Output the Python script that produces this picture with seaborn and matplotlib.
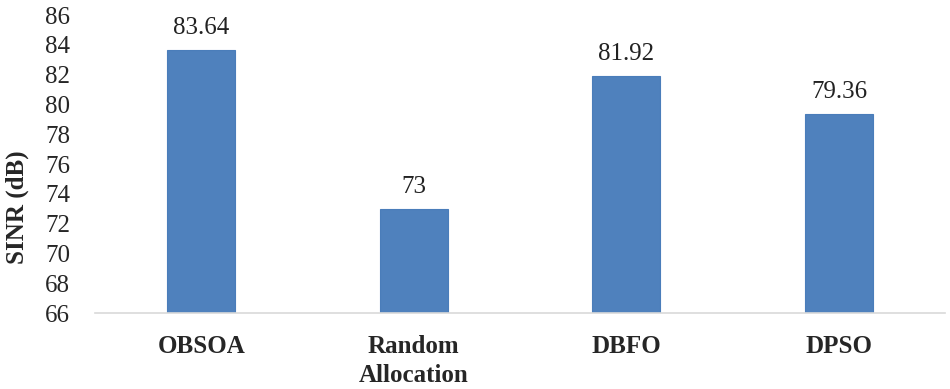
import matplotlib
matplotlib.use('Agg')
import matplotlib.pyplot as plt
import seaborn as sns
import pandas as pd

# Data
methods = ['OBSOA', 'Random\nAllocation', 'DBFO', 'DPSO']
sinr_db = [83.64, 73, 81.92, 79.36]
value_labels = ['83.64', '73', '81.92', '79.36']
y_ticks = list(range(66, 87, 2))

df = pd.DataFrame({'method': methods, 'sinr': sinr_db})

sns.set_style('white')
plt.rcParams['font.family'] = ['Liberation Serif', 'DejaVu Serif']

fig, ax = plt.subplots(figsize=(9.5, 3.89), dpi=100)
sns.barplot(data=df, x='method', y='sinr', color='#4f81bd', width=0.32,
            saturation=1, edgecolor='#4a7dba', linewidth=0.8, ax=ax)

ax.set_ylim(66, 86)
ax.set_yticks(y_ticks)
ax.set_xlim(-0.5, 3.5)

for i, (v, lab) in enumerate(zip(sinr_db, value_labels)):
    ax.text(i, v + 0.75, lab, ha='center', va='bottom', fontsize=18, color='#222222')

ax.set_xlabel('')
ax.set_ylabel('SINR (dB)', fontsize=18, fontweight='bold')
ax.yaxis.set_label_coords(-0.078, 0.355)
ax.tick_params(axis='y', labelsize=18, length=0, pad=18)
ax.tick_params(axis='x', labelsize=18, length=0, pad=16)
for t in ax.get_xticklabels():
    t.set_fontweight('bold')
    t.set_linespacing(1.3)

sns.despine(ax=ax, left=True, top=True, right=True)
ax.spines['bottom'].set_color('#d9d9d9')
ax.spines['bottom'].set_linewidth(1.2)

fig.subplots_adjust(left=0.1, right=0.995, bottom=0.195, top=0.961)
fig.savefig('out.png', dpi=100)
